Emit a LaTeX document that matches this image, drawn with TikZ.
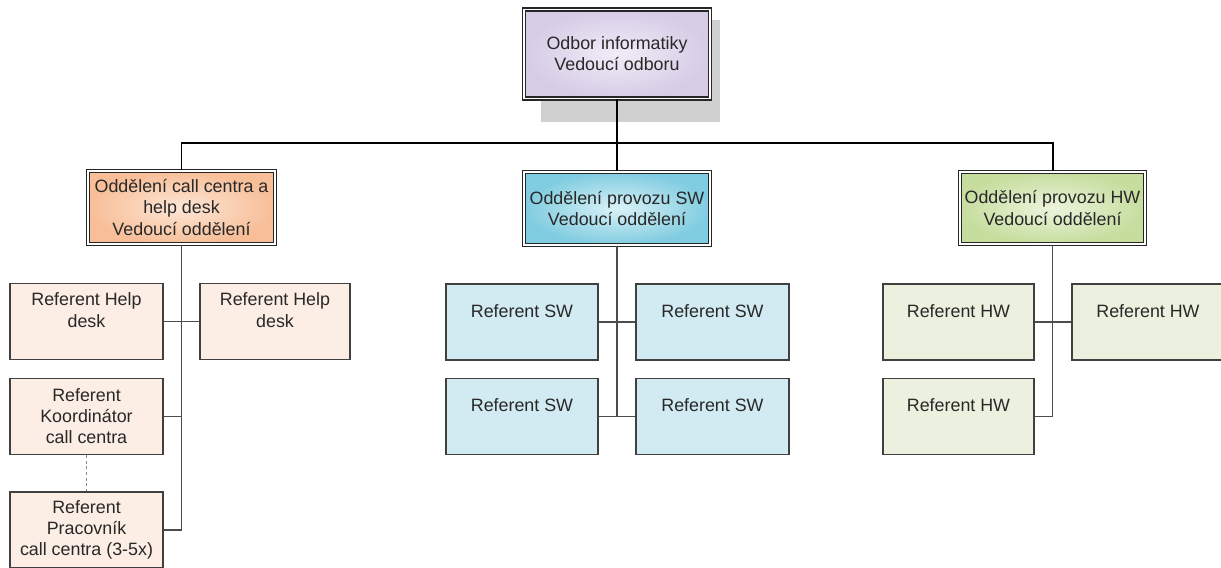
\documentclass[tikz,border=0pt]{standalone}
\usepackage{fontspec}
\setmainfont{Liberation Sans}
\usepackage{xcolor}
\usetikzlibrary{calc}

%colours of the chart
\definecolor{purpleout}{RGB}{214,204,230}
\definecolor{purplein}{RGB}{240,236,247}
\definecolor{orangeout}{RGB}{247,190,152}
\definecolor{orangein}{RGB}{253,230,213}
\definecolor{blueout}{RGB}{128,204,224}
\definecolor{bluein}{RGB}{218,242,248}
\definecolor{greenout}{RGB}{198,221,158}
\definecolor{greenin}{RGB}{236,244,221}
\definecolor{orangelight}{RGB}{252,238,228}
\definecolor{bluelight}{RGB}{210,234,241}
\definecolor{greenlight}{RGB}{236,241,223}
\definecolor{shadowgray}{RGB}{208,208,208}
\definecolor{textgray}{RGB}{40,40,40}

%one pixel of the chart
\newdimen\px \px=0.025cm

%text in the upper part of a box
\newcommand{\uptext}[1]{\raisebox{5\px}[0pt][0pt]{\begin{tabular}{@{}c@{}}#1\end{tabular}}}

\tikzset{
	headbox/.style={draw=black!85, line width=0.8pt, double=white, double distance=1.4pt,
		align=center, inner sep=0pt},
	refbox/.style={draw=black!75, line width=1pt, align=center, inner sep=0pt,
		minimum width=152\px, minimum height=76\px},
	trunk/.style={draw=black, line width=1.4pt},
	branch/.style={draw=black!70, line width=1.3pt}
}

\begin{document}
\begin{tikzpicture}[x=0.025cm, y=-0.025cm, font=\fontsize{12.7}{15}\selectfont, text=textgray]
		\useasboundingbox (0,0) rectangle (1221,567);
		
		%shadow of the head box
		\fill [shadowgray] (541,20) rectangle (720,122);
		
		%head of the department
		\node [headbox, minimum width=186\px, minimum height=89\px,
			inner color=purplein, outer color=purpleout] (odbor) at (617,54)
			{Odbor informatiky\\Vedoucí odboru};
		
		%departments
		\node [headbox, minimum width=187\px, minimum height=73\px,
			inner color=orangein, outer color=orangeout] (ccentrum) at (181.5,207.5)
			{Oddělení call centra a\\help desk\\Vedoucí oddělení};
		\node [headbox, minimum width=186\px, minimum height=73\px,
			inner color=bluein, outer color=blueout] (provsw) at (617,208.5)
			{Oddělení provozu SW\\Vedoucí oddělení};
		\node [headbox, minimum width=185\px, minimum height=72\px,
			inner color=greenin, outer color=greenout] (provhw) at (1052.5,208)
			{Oddělení provozu HW\\Vedoucí oddělení};
		
		%connectors from the head
		\coordinate (bus) at (617,143);
		\draw [trunk] (odbor.south) -- (bus) -| (ccentrum.north);
		\draw [trunk] (bus) -- (provsw.north);
		\draw [trunk] (bus) -| (provhw.north);
		
		%call centre and help desk
		\node [refbox, fill=orangelight, minimum width=153\px] (hd1) at (86.5,321.5) {\uptext{Referent Help\\desk}};
		\node [refbox, fill=orangelight, minimum width=150\px] (hd2) at (275,321.5) {\uptext{Referent Help\\desk}};
		\node [refbox, fill=orangelight, minimum width=153\px] (koord) at (86.5,416.5) {Referent\\Koordinátor\\call centra};
		\node [refbox, fill=orangelight, minimum width=153\px] (prac) at (86.5,530) {Referent\\Pracovník\\call centra (3-5x)};
		
		\draw [branch] (ccentrum.south) |- (hd1.east);
		\draw [branch] (ccentrum.south) |- (hd2.west);
		\draw [branch] (ccentrum.south) |- (koord.east);
		\draw [branch] (ccentrum.south) |- (prac.east);
		\draw [black!45, dashed, dash pattern=on 2pt off 2pt] (koord.south) -- (prac.north);
		
		%operation of SW
		\node [refbox, fill=bluelight] (sw1) at (522,322) {\uptext{Referent SW}};
		\node [refbox, fill=bluelight, minimum width=153\px] (sw2) at (712.5,322) {\uptext{Referent SW}};
		\node [refbox, fill=bluelight] (sw3) at (522,416.5) {\uptext{Referent SW}};
		\node [refbox, fill=bluelight, minimum width=153\px] (sw4) at (712.5,416.5) {\uptext{Referent SW}};
		
		\draw [branch] (provsw.south) |- (sw1.east);
		\draw [branch] (provsw.south) |- (sw2.west);
		\draw [branch] (provsw.south) |- (sw3.east);
		\draw [branch] (provsw.south) |- (sw4.west);
		
		%operation of HW
		\node [refbox, fill=greenlight, minimum width=151\px] (hw1) at (958.5,322) {\uptext{Referent HW}};
		\node [refbox, fill=greenlight] (hw2) at (1148,322) {\uptext{Referent HW}};
		\node [refbox, fill=greenlight, minimum width=151\px] (hw3) at (958.5,416.5) {\uptext{Referent HW}};
		
		\draw [branch] (provhw.south) |- (hw1.east);
		\draw [branch] (provhw.south) |- (hw2.west);
		\draw [branch] (provhw.south) |- (hw3.east);
	\end{tikzpicture}
\end{document}
